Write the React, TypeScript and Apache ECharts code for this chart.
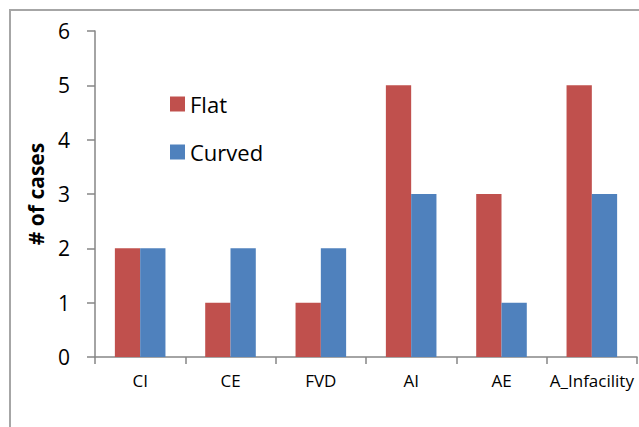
import React, { useEffect, useRef } from "react";
import * as echarts from "echarts";

const categories = ["CI", "CE", "FVD", "AI", "AE", "A_Infacility"];
const flatValues = [2, 1, 1, 5, 3, 5];
const curvedValues = [2, 2, 2, 3, 1, 3];
const yTicks = [0, 1, 2, 3, 4, 5, 6];

const FONT = "'Open Sans', 'Liberation Sans', sans-serif";

export default function App() {
  const ref = useRef<HTMLDivElement>(null);
  useEffect(() => {
    if (!ref.current) return;
    const chart = echarts.init(ref.current, undefined, { renderer: "svg" });
    chart.setOption({
      animation: false,
      backgroundColor: "#ffffff",
      graphic: [
        {
          type: "rect",
          shape: { x: 10, y: 10, width: 700, height: 500 },
          style: { fill: "none", stroke: "#a6a6a6", lineWidth: 2 },
          silent: true,
        },
      ],
      grid: { left: 95, top: 31, width: 542, height: 326, containLabel: false },
      legend: {
        orient: "vertical",
        left: 165,
        top: 88,
        itemWidth: 15,
        itemHeight: 15,
        itemGap: 26,
        icon: "rect",
        textStyle: { fontSize: 22, fontFamily: FONT, color: "#000" },
        data: ["Flat", "Curved"],
      },
      xAxis: {
        type: "category",
        data: categories,
        axisLine: { show: true, lineStyle: { color: "#868686", width: 1.5 } },
        axisTick: { show: true, length: 7, alignWithLabel: false, lineStyle: { color: "#868686", width: 1.5 } },
        axisLabel: { fontSize: 17, fontFamily: FONT, color: "#000", margin: 15, interval: 0, hideOverlap: false },
      },
      yAxis: {
        type: "value",
        min: yTicks[0],
        max: yTicks[yTicks.length - 1],
        interval: 1,
        name: "# of cases",
        nameLocation: "middle",
        nameGap: 49,
        nameRotate: 90,
        nameTextStyle: { fontSize: 21, fontWeight: "bold", fontFamily: FONT, color: "#000" },
        axisLine: { show: true, lineStyle: { color: "#868686", width: 1.5 } },
        axisTick: { show: true, length: 8, lineStyle: { color: "#868686", width: 1.5 } },
        splitLine: { show: false },
        axisLabel: { fontSize: 21, fontFamily: FONT, color: "#000", margin: 25 },
      },
      series: [
        {
          name: "Flat",
          type: "bar",
          data: flatValues,
          barWidth: "28%",
          barGap: "0%",
          itemStyle: { color: "#C0504D" },
        },
        {
          name: "Curved",
          type: "bar",
          data: curvedValues,
          barWidth: "28%",
          barGap: "0%",
          itemStyle: { color: "#4F81BD" },
        },
      ],
    });
    return () => chart.dispose();
  }, []);
  return (
    <div
      ref={ref}
      style={{ position: "fixed", left: 0, top: 0, width: 639, height: 427 }}
    />
  );
}
